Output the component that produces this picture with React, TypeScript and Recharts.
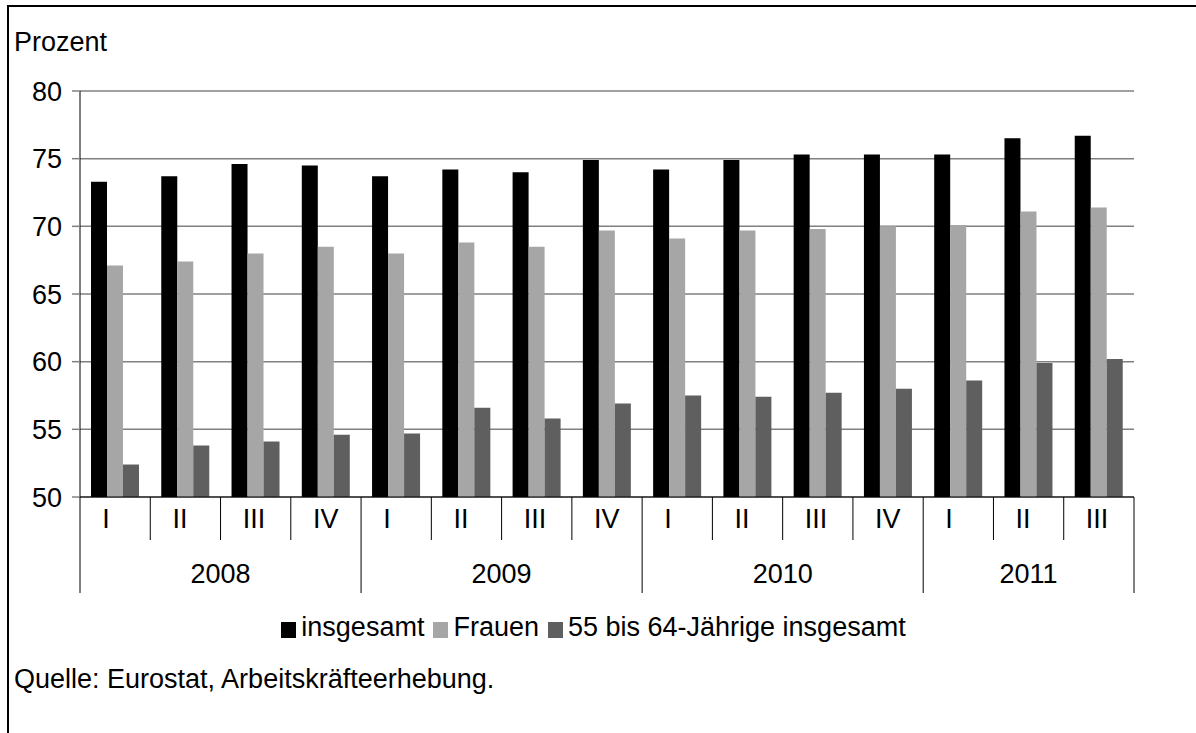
import React from "react";
import { BarChart, Bar, XAxis, YAxis, CartesianGrid, Legend } from "recharts";

const QUARTERS = ["I", "II", "III", "IV", "I", "II", "III", "IV", "I", "II", "III", "IV", "I", "II", "III"];
const YEARS = ["2008", "2008", "2008", "2008", "2009", "2009", "2009", "2009", "2010", "2010", "2010", "2010", "2011", "2011", "2011"];
const INSGESAMT = [73.3, 73.7, 74.6, 74.5, 73.7, 74.2, 74.0, 74.9, 74.2, 74.9, 75.3, 75.3, 75.3, 76.5, 76.7];
const FRAUEN = [67.1, 67.4, 68.0, 68.5, 68.0, 68.8, 68.5, 69.7, 69.1, 69.7, 69.8, 70.0, 70.1, 71.1, 71.4];
const AELTERE = [52.4, 53.8, 54.1, 54.6, 54.7, 56.6, 55.8, 56.9, 57.5, 57.4, 57.7, 58.0, 58.6, 59.9, 60.2];
const Y_TICKS = [50, 55, 60, 65, 70, 75, 80];

const SERIES = [
  { key: "insgesamt", name: "insgesamt", color: "#000000" },
  { key: "frauen", name: "Frauen", color: "#a6a6a6" },
  { key: "aeltere", name: "55 bis 64-Jährige insgesamt", color: "#5f5f5f" },
];

const FONT = "'Liberation Sans', Arial, sans-serif";
const FS = 27;

const data = QUARTERS.map((q, i) => ({
  q,
  year: YEARS[i],
  insgesamt: INSGESAMT[i],
  frauen: FRAUEN[i],
  aeltere: AELTERE[i],
}));

// quarter label + separator per category, year label on the first quarter of each year
function QuarterTick(props: any) {
  const { x, y, payload, index } = props;
  const half = payload?.offset || 35.13;
  const i = index ?? payload.index;
  const yearStart = i === 0 || YEARS[i] !== YEARS[i - 1];
  const left = x - half;
  const nInYear = YEARS.filter((yy) => yy === YEARS[i]).length;
  const isLast = i === QUARTERS.length - 1;
  return (
    <g>
      <line x1={left} y1={y} x2={left} y2={y + (yearStart ? 96 : 43)} stroke="#000" strokeWidth={1} />
      {isLast && <line x1={x + half} y1={y} x2={x + half} y2={y + 96} stroke="#000" strokeWidth={1} />}
      <text x={x - 13} y={y + 31} fontSize={FS} fontFamily={FONT} fill="#000" textAnchor="start">
        {QUARTERS[i]}
      </text>
      {yearStart && (
        <text x={left + nInYear * half} y={y + 86} fontSize={FS} fontFamily={FONT} fill="#000" textAnchor="middle">
          {YEARS[i]}
        </text>
      )}
    </g>
  );
}

function LegendRow() {
  return (
    <div style={{ display: "flex", justifyContent: "center", alignItems: "center", height: 45, fontFamily: FONT, fontSize: FS, color: "#000" }}>
      {SERIES.map((s) => (
        <div key={s.key} style={{ display: "flex", alignItems: "center", marginRight: 9 }}>
          <span style={{ display: "inline-block", width: 15, height: 16, background: s.color, marginRight: 5, marginTop: 4 }} />
          <span>{s.name}</span>
        </div>
      ))}
    </div>
  );
}

export default function App() {
  return (
    <div style={{ position: "absolute", left: 0, top: 0, width: 1196, height: 733, background: "#fff", fontFamily: FONT }}>
      <div style={{ position: "absolute", left: 7, top: 5, right: 0, bottom: 0, borderTop: "2px solid #000", borderLeft: "2px solid #000" }} />
      <div style={{ position: "absolute", left: 14, top: 27, fontSize: FS, lineHeight: "30px" }}>Prozent</div>
      <BarChart
        width={1196}
        height={650}
        data={data}
        margin={{ top: 91, right: 62, left: 0, bottom: 0 }}
        barSize={16}
        barGap={0}
      >
        <CartesianGrid horizontal vertical={false} stroke="#808080" strokeWidth={1.5} />
        <XAxis
          dataKey="q"
          height={108}
          interval={0}
          tickSize={0}
          tickMargin={0}
          tickLine={false}
          axisLine={{ stroke: "#000", strokeWidth: 1 }}
          tick={QuarterTick}
        />
        <YAxis
          width={80}
          domain={[50, 80]}
          ticks={Y_TICKS}
          interval={0}
          allowDataOverflow
          tickSize={8}
          tickMargin={10}
          tickLine={{ stroke: "#808080", strokeWidth: 1.5 }}
          axisLine={{ stroke: "#000", strokeWidth: 1 }}
          tick={{ fontSize: FS, fontFamily: FONT, fill: "#000" }}
        />
        <Legend verticalAlign="bottom" content={<LegendRow />} wrapperStyle={{ left: 0, width: 1196, height: 45 }} />
        {SERIES.map((s) => (
          <Bar key={s.key} dataKey={s.key} name={s.name} fill={s.color} isAnimationActive={false} />
        ))}
      </BarChart>
      <div style={{ position: "absolute", left: 14, top: 664, fontSize: FS, lineHeight: "30px" }}>
        Quelle: Eurostat, Arbeitskräfteerhebung.
      </div>
    </div>
  );
}
